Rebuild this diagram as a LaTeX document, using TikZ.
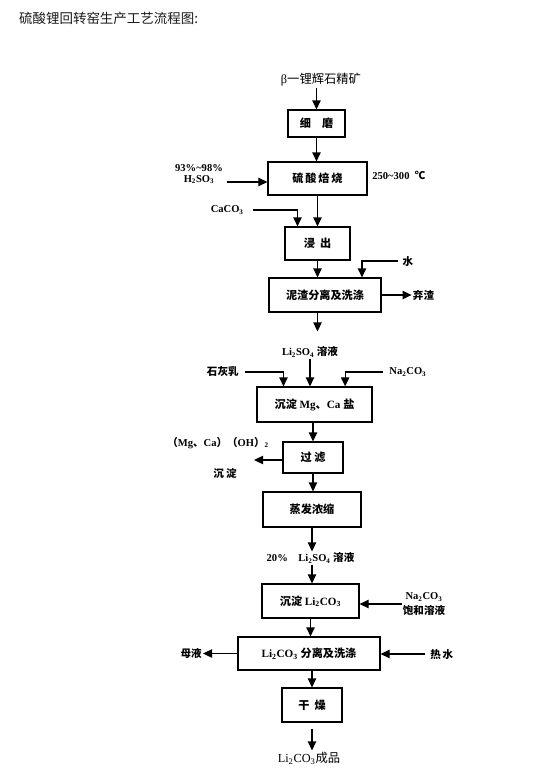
\documentclass[tikz,border=0pt]{standalone}
\usepackage{fontspec}
\setmainfont{Liberation Serif}
\newfontfamily\zhfont{Noto Sans CJK SC}
\newcommand{\zh}[1]{{\zhfont #1}}
\usepackage{tikz}
\usetikzlibrary{arrows.meta, positioning}

\begin{document}
\begin{tikzpicture}[x=0.03cm, y=-0.03cm,
  box/.style={draw, rectangle, line width=1pt, inner sep=1pt, font=\fontsize{9.5}{11}\selectfont\bfseries},
  lbl/.style={inner sep=1pt, font=\fontsize{9}{11}\selectfont\bfseries},
  arr/.style={-{Triangle[length=2.7mm, width=2.5mm]}, line width=1pt}
]
\useasboundingbox (0,0) rectangle (550,772);
\node[anchor=west, text=black!90, font=\fontsize{11.5}{13}\selectfont] (title) at (15,18) {\zh{硫酸锂回转窑生产工艺流程图:}};

% main column
\node[lbl, font=\fontsize{10.5}{12}\selectfont] (ore) at (321,80) {β\zh{一锂辉石精矿}};
\node[box, minimum width=1.71cm, minimum height=0.81cm] (mill) at (316.5,123.5) {\zh{细\quad 磨}};
\node[box, minimum width=2.97cm, minimum height=0.99cm] (roast) at (317.5,178.5) {\zh{硫\,酸\,焙\,烧}};
\node[box, minimum width=1.95cm, minimum height=0.99cm] (leach) at (317.5,243.5) {\zh{浸\ \ 出}};
\node[box, minimum width=3.36cm, minimum height=1.02cm] (sep) at (325,295) {\zh{泥渣分离及洗涤}};
\node[lbl] (liso) at (310,352) {Li\textsubscript{2}SO\textsubscript{4} \zh{溶液}};
\node[box, minimum width=3.45cm, minimum height=1.05cm] (precip) at (314.5,404.5) {\zh{沉淀} Mg\zh{、}Ca \zh{盐}};
\node[box, minimum width=1.8cm, minimum height=0.93cm] (filt) at (313,457.5) {\zh{过\ 滤}};
\node[box, minimum width=2.94cm, minimum height=1.05cm] (evap) at (312,509.5) {\zh{蒸发浓缩}};
\node[lbl] (litwenty) at (310.5,558) {20\%\quad Li\textsubscript{2}SO\textsubscript{4} \zh{溶液}};
\node[box, minimum width=2.91cm, minimum height=1.02cm] (preli) at (310.5,601) {\zh{沉淀} Li\textsubscript{2}CO\textsubscript{3}};
\node[box, minimum width=4.26cm, minimum height=0.99cm] (wash) at (309,653.5) {Li\textsubscript{2}CO\textsubscript{3} \zh{分离及洗涤}};
\node[box, minimum width=1.8cm, minimum height=1.02cm] (dry) at (312,705) {\zh{干\ \ 燥}};
\node[lbl, font=\fontsize{10.5}{12}\selectfont] (prod) at (309,758) {Li\textsubscript{2}CO\textsubscript{3}\zh{成品}};

% side streams
\node[lbl, align=center] (acid) at (199,174) {93\%\textasciitilde 98\%\\[-2pt]H\textsubscript{2}SO\textsubscript{3}};
\coordinate (acidin) at (227,182);
\node[lbl, anchor=west] (temp) at (371,175) {250\textasciitilde 300\ \ \zh{℃}};
\node[lbl, anchor=east] (caco) at (245,210) {CaCO\textsubscript{3}};
\node[lbl] (water) at (408,261) {\zh{水}};
\node[lbl, right=0.9cm of sep] (slag) {\zh{弃渣}};
\node[lbl, anchor=east] (lime) at (240,372) {\zh{石灰乳}};
\node[lbl, anchor=west] (naone) at (388,372) {Na\textsubscript{2}CO\textsubscript{3}};
\node[lbl] (oh) at (218,443) {\zh{（}Mg\zh{、}Ca\zh{）（}OH\zh{）}\textsubscript{2}};
\node[lbl] (ppt) at (225,473) {\zh{沉\ 淀}};
\coordinate (ohend) at (254,460);
\node[lbl, align=center] (natwo) at (424,604) {Na\textsubscript{2}CO\textsubscript{3}\\[1pt]\zh{饱和溶液}};
\node[lbl, anchor=east] (mother) at (203,653) {\zh{母液}};
\node[lbl, anchor=west] (hot) at (429,654) {\zh{热\,水}};

% connectors
\draw[arr] (mill |- ore.south) -- (mill.north);
\draw[arr] (mill.south) -- (mill.south |- roast.north);
\draw[arr] (acidin) -- (acidin -| roast.west);
\draw[arr] (roast.south) -- (roast.south |- leach.north);
\draw[arr] ([xshift=0.24cm]caco.east) -| ([xshift=-0.6cm]leach.north);
\draw[arr] (leach.south) -- (leach.south |- sep.north);
\draw[arr] ([xshift=-0.1cm]water.west) -| ([xshift=1.11cm]sep.north);
\draw[arr] (sep) -- (slag);
\draw[arr, shorten >=0.42cm] (leach.south |- sep.south) -- (leach.south |- liso.north);
\draw[arr] (liso.south) -- (liso.south |- precip.north);
\draw[arr] ([xshift=0.15cm]lime.east) -| ([xshift=-0.93cm]precip.north);
\draw[arr] ([xshift=-0.15cm]naone.west) -| ([xshift=0.92cm]precip.north);
\draw[arr] (precip.south -| filt) -- (filt.north);
\draw[arr] (filt.west |- ohend) -- (ohend);
\draw[arr] (filt.south) -- (filt.south |- evap.north);
\draw[arr] (evap.south) -- (evap.south |- litwenty.north);
\draw[arr] (evap.south |- litwenty.south) -- (evap.south |- preli.north);
\draw[arr] (natwo.west) -- (natwo.west -| preli.east);
\draw[arr] (preli.south) -- (preli.south |- wash.north);
\draw[arr] (wash.west) -- (wash.west -| mother.east);
\draw[arr] ([xshift=-0.12cm]hot.west) -- (hot.west -| wash.east);
\draw[arr] (wash.south -| dry) -- (dry.north);
\draw[arr, shorten <=0.18cm] (dry.south) -- (dry.south |- prod.north);
\end{tikzpicture}
\end{document}
